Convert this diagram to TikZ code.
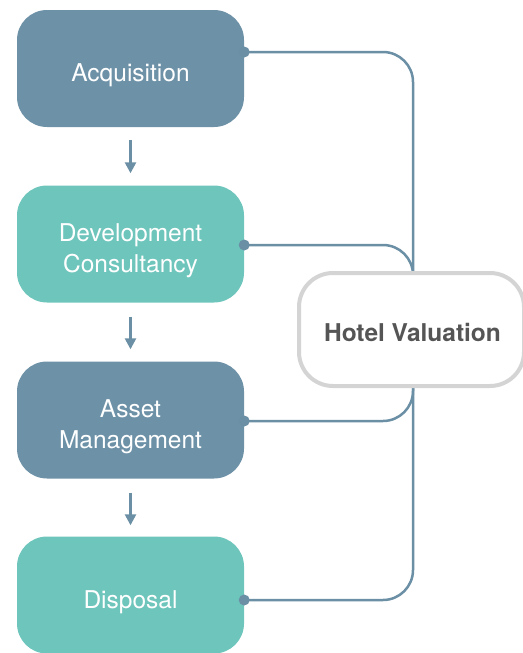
\documentclass[tikz,border=0pt]{standalone}
\usepackage{fontspec}
\setmainfont{TeX Gyre Heros}
\usetikzlibrary{arrows.meta,calc,backgrounds}
\definecolor{darkbox}{HTML}{6D91A7}
\definecolor{tealbox}{HTML}{6EC5BC}
\definecolor{linkcol}{HTML}{6B8FA5}
\definecolor{hotelborder}{HTML}{D4D4D4}
\definecolor{hoteltext}{HTML}{555555}
\newcommand{\twolinestrut}{\rule{0pt}{32pt}}
\begin{document}
\begin{tikzpicture}[x=1pt,y=-1pt,
  stagebox/.style={rounded corners=30pt, minimum width=227pt, minimum height=117pt,
    text=white, font=\fontsize{24.5}{31}\selectfont, align=center, inner sep=0pt},
  darkstage/.style={stagebox, fill=darkbox},
  tealstage/.style={stagebox, fill=tealbox},
  hotelbox/.style={rounded corners=34pt, draw=hotelborder, line width=4pt, fill=white,
    minimum width=225pt, minimum height=113pt, text=hoteltext,
    font=\fontsize{24.5}{28}\selectfont\bfseries, inner sep=0pt},
  flow/.style={draw=linkcol, line width=2.5pt, -{Triangle[length=11pt,width=11pt]}},
  link/.style={draw=linkcol, line width=2.5pt, rounded corners=30pt},
  linkdot/.style={circle, fill=linkcol, inner sep=0pt, minimum size=11pt}
]
\useasboundingbox (0,0) rectangle (522,653);
\node[darkstage] (acq) at (130.5,68.5) {\rule{0pt}{32pt}Acquisition};
\node[tealstage] (dev) at (130.5,244) {\twolinestrut Development\\Consultancy};
\node[darkstage] (asset) at (130.5,420) {\twolinestrut Asset\\Management};
\node[tealstage] (disp) at (130.5,595) {\rule{0pt}{32pt}Disposal};
\node[hotelbox, anchor=west] (hotel) at (297,329.5) {\rule{0pt}{24pt}\hspace*{2pt}Hotel Valuation};

\coordinate (acqout) at ($(acq.east)+(0,-16.5)$);
\coordinate (devout) at ($(dev.east)+(0,1)$);
\coordinate (assetout) at ($(asset.east)+(0,1)$);
\coordinate (dispout) at ($(disp.east)+(0,5)$);
\coordinate (trunk) at (413,0);

\begin{scope}[on background layer]
\draw[link] (acqout) -- (acqout -| trunk) -- (dispout -| trunk) -- (dispout);
\draw[link] (devout) -| ($(hotel.north -| trunk)+(0,2)$);
\draw[link] (assetout) -| ($(hotel.south -| trunk)+(0,-2)$);
\end{scope}

\node[linkdot] at (acqout) {};
\node[linkdot] at (devout) {};
\node[linkdot] at (assetout) {};
\node[linkdot] at (dispout) {};

\draw[flow] ($(acq.south)+(0,13)$) -- ($(dev.north)+(0,-12)$);
\draw[flow] ($(dev.south)+(0,14)$) -- ($(asset.north)+(0,-12)$);
\draw[flow] ($(asset.south)+(0,14)$) -- ($(disp.north)+(0,-11)$);
\end{tikzpicture}
\end{document}
